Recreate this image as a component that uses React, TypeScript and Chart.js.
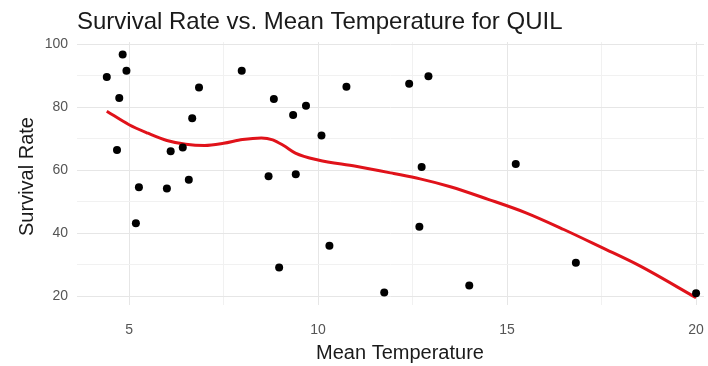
import { useEffect, useRef } from "react";
import { Chart, registerables } from "chart.js";

Chart.register(...registerables);

// Observed QUIL sites: mean temperature vs. survival rate
const meanTemperature = [
  4.41, 4.68, 4.74, 4.83, 4.93, 5.18, 5.26, 6.0, 6.1, 6.42, 6.58, 6.67, 6.85, 7.98, 8.69, 8.83,
  8.97, 9.34, 9.41, 9.68, 10.09, 10.3, 10.75, 11.75, 12.41, 12.68, 12.74, 12.92, 14.0, 15.23, 16.82, 20.0,
];
const survivalRate = [
  89.7, 66.5, 83.0, 96.8, 91.7, 43.2, 54.6, 54.2, 66.1, 67.3, 57.0, 76.6, 86.3, 91.7, 58.1, 82.7,
  29.1, 77.6, 58.8, 80.5, 71.1, 36.0, 86.6, 21.2, 87.5, 42.1, 61.1, 89.9, 23.4, 62.0, 30.6, 20.9,
];

// Smoothed (loess) trend
const smoothTemperature = [
  4.41, 5.0, 5.5, 6.0, 6.5, 7.0, 7.5, 8.0, 8.5, 8.8, 9.1, 9.4, 10.0, 11.0, 12.0, 12.7, 13.5, 14.5,
  15.5, 16.5, 17.5, 18.5, 20.0,
];
const smoothSurvival = [
  78.8, 74.5, 71.8, 69.5, 68.3, 67.9, 68.6, 69.8, 70.3, 69.7, 67.8, 65.5, 63.3, 61.3, 59.0, 57.3,
  54.8, 50.8, 46.5, 41.2, 35.5, 29.7, 19.5,
];

const xMajorTicks = [5, 10, 15, 20];
const xMinorTicks = [7.5, 12.5, 17.5];
const yMajorTicks = [20, 40, 60, 80, 100];
const yMinorTicks = [30, 50, 70, 90];

const TITLE = "Survival Rate vs. Mean Temperature for QUIL";
const X_TITLE = "Mean Temperature";
const Y_TITLE = "Survival Rate";

const FONT = "'Liberation Sans', Arial, sans-serif";
const MAJOR_GRID = "#e6e6e6";
const MINOR_GRID = "#f1f1f1";

const plotLabels = {
  id: "plotLabels",
  afterDraw(chart: any) {
    const { ctx, chartArea } = chart;
    ctx.save();
    ctx.fillStyle = "#1a1a1a";
    ctx.textBaseline = "alphabetic";

    ctx.font = `24px ${FONT}`;
    ctx.textAlign = "left";
    ctx.fillText(TITLE, chartArea.left, 29);

    ctx.font = `20px ${FONT}`;
    ctx.textAlign = "center";
    ctx.fillText(X_TITLE, 400, 359);

    ctx.translate(33, (chartArea.top + chartArea.bottom) / 2 + 3);
    ctx.rotate(-Math.PI / 2);
    ctx.fillText(Y_TITLE, 0, 0);
    ctx.restore();
  },
};

export default function App() {
  const canvasRef = useRef<HTMLCanvasElement | null>(null);

  useEffect(() => {
    document.body.style.margin = "0";
    const canvas = canvasRef.current;
    if (!canvas) return;

    const points = meanTemperature.map((x, i) => ({ x, y: survivalRate[i] }));
    const trend = smoothTemperature.map((x, i) => ({ x, y: smoothSurvival[i] }));

    const chart = new Chart(canvas, {
      type: "scatter",
      data: {
        datasets: [
          {
            label: "Sites",
            data: points,
            backgroundColor: "#000000",
            borderColor: "#000000",
            pointRadius: 4,
            pointBorderWidth: 0,
          },
          {
            type: "line",
            label: "Trend",
            data: trend,
            borderColor: "#e0121a",
            borderWidth: 3,
            pointRadius: 0,
            showLine: true,
            fill: false,
            cubicInterpolationMode: "monotone",
          } as any,
        ],
      },
      options: {
        responsive: false,
        animation: false,
        events: [],
        layout: { padding: { top: 42, left: 0, right: 0, bottom: 0 } },
        plugins: {
          legend: { display: false },
          tooltip: { enabled: false },
          title: { display: false },
        },
        scales: {
          x: {
            type: "linear",
            min: 3.622,
            max: 20.21,
            border: { display: false },
            afterBuildTicks: (scale: any) => {
              scale.ticks = [...xMajorTicks, ...xMinorTicks]
                .sort((a, b) => a - b)
                .map((value) => ({ value }));
            },
            afterFit: (scale: any) => {
              scale.height = 61;
              scale.paddingLeft = 0;
              scale.paddingRight = 0;
            },
            grid: {
              drawTicks: false,
              color: (c: any) => (xMajorTicks.includes(c.tick?.value) ? MAJOR_GRID : MINOR_GRID),
              lineWidth: 1,
            },
            ticks: {
              padding: 17,
              autoSkip: false,
              maxRotation: 0,
              color: "#555555",
              font: { family: FONT, size: 14 },
              callback: (v: any) => (xMajorTicks.includes(Number(v)) ? String(v) : ""),
            },
          },
          y: {
            type: "linear",
            min: 17.2,
            max: 100.8,
            border: { display: false },
            afterBuildTicks: (scale: any) => {
              scale.ticks = [...yMajorTicks, ...yMinorTicks]
                .sort((a, b) => a - b)
                .map((value) => ({ value }));
            },
            afterFit: (scale: any) => {
              scale.width = 77;
              scale.paddingTop = 0;
              scale.paddingBottom = 0;
            },
            grid: {
              drawTicks: false,
              color: (c: any) => (yMajorTicks.includes(c.tick?.value) ? MAJOR_GRID : MINOR_GRID),
              lineWidth: 1,
            },
            ticks: {
              padding: 9,
              autoSkip: false,
              color: "#555555",
              font: { family: FONT, size: 14 },
              callback: (v: any) => (yMajorTicks.includes(Number(v)) ? String(v) : ""),
            },
          },
        },
      },
      plugins: [plotLabels],
    });

    return () => chart.destroy();
  }, []);

  return (
    <div style={{ width: 708, height: 366, background: "#ffffff" }}>
      <canvas ref={canvasRef} width={708} height={366} style={{ display: "block" }} />
    </div>
  );
}
